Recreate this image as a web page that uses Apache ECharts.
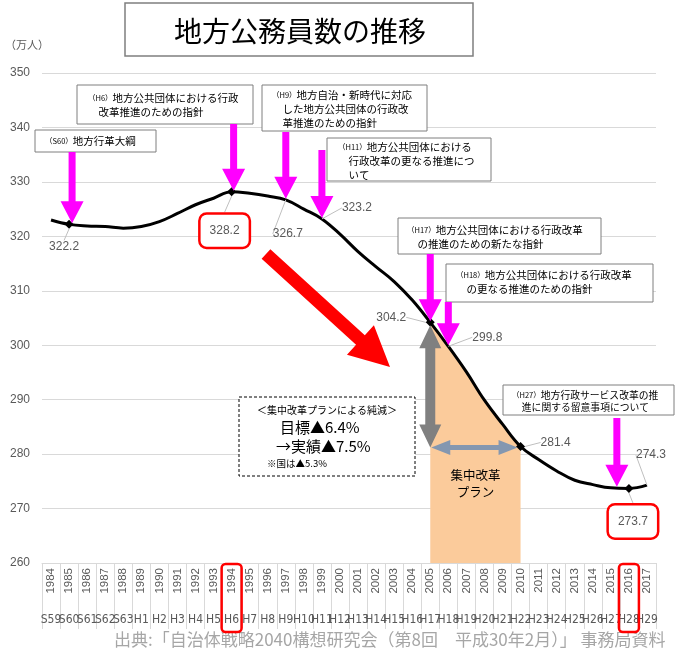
<!DOCTYPE html>
<html><head><meta charset="utf-8">
<script src="https://cdn.jsdelivr.net/npm/echarts@6/dist/echarts.min.js"></script>
<style>html,body{margin:0;padding:0;background:#fff}#c{width:691px;height:652px}</style>
</head><body><div id="c"></div>
<script>
// ---------- DATA ----------
const years = ['1984','1985','1986','1987','1988','1989','1990','1991','1992','1993','1994','1995','1996','1997','1998','1999','2000','2001','2002','2003','2004','2005','2006','2007','2008','2009','2010','2011','2012','2013','2014','2015','2016','2017'];
const eras = ['S59','S60','S61','S62','S63','H1','H2','H3','H4','H5','H6','H7','H8','H9','H10','H11','H12','H13','H14','H15','H16','H17','H18','H19','H20','H21','H22','H23','H24','H25','H26','H27','H28','H29'];
const employees = [323.0,322.2,321.9,321.8,321.5,321.8,322.7,324.2,325.8,327.0,328.2,327.9,327.4,326.7,325.0,323.2,320.4,317.2,314.4,311.7,308.3,304.2,299.8,295.1,289.9,285.5,281.4,279.0,276.9,275.2,274.4,273.8,273.7,274.3];
const yMin = 260, yMax = 350, yStep = 10;
const markerYears = ['1985','1994','2005','2010','2016'];
const labeledYears = ['1985','1994','1997','1999','2005','2006','2010','2016','2017'];
const highlightYears = ['1994','2016'];
const planStart = '2005', planEnd = '2010';
const arrowYears = ['1985','1994','1997','1999','2005','2006','2015'];
const notes = [
  '{s|（S60）}地方行革大綱',
  '{s|（H6）}地方公共団体における行政\n　改革推進のための指針',
  '{s|（H9）}地方自治・新時代に対応\n　した地方公共団体の行政改\n　革推進のための指針',
  '{s|（H11）}地方公共団体における\n　行政改革の更なる推進につ\n　いて',
  '{s|（H17）}地方公共団体における行政改革\n　の推進のための新たな指針',
  '{s|（H18）}地方公共団体における行政改革\n　の更なる推進のための指針',
  '{s|（H27）}地方行政サービス改革の推\n　進に関する留意事項について'
];
const title = '地方公務員数の推移';
const unitText = '（万人）';
const planTitle = '＜集中改革プランによる純減＞';
const planTarget = '目標▲6.4%';
const planResult = '→実績▲7.5%';
const planNational = '※国は▲5.3%';
const planName = '集中改革\nプラン';
const sourceText = '出典:「自治体戦略2040構想研究会（第8回　平成30年2月）」 事務局資料';

// ---------- LAYOUT ----------
const CJK = "'Noto Sans CJK JP', sans-serif";
const NUM = "'Liberation Sans', 'Noto Sans', sans-serif";
const labelOffsets = {'1985':[-5,22],'1994':[-7,39],'1997':[2,34],'1999':[35,-11],'2005':[-39,-5],'2006':[39,-9],'2010':[35,-4],'2016':[4,33],'2017':[4,-30]};
// [x, y, w, h, textX, textY, fontSize, lineHeight]
const noteBoxes = [
  [35,130,121,22, 45,134,10.5,14],
  [77,85,176,39, 88,91,10.5,14],
  [262,85,165,46, 272,88,10.5,14],
  [327,138,164,43, 338,140,10.5,14],
  [398,218,203,36, 407,223,10.5,14],
  [446,264,207,38, 456,268,10.5,14],
  [503,385,171,30, 512,389,9.8,12]
];
const arrowTops = [152,124,132,150,254,302,418];
const arrowDx = [3,2,0,0,0,0,6];

const chart = echarts.init(document.getElementById('c'));
const idxOf = y => years.indexOf(y);

const mainData = employees.map((v, i) => {
  const y = years[i];
  const item = {value: v};
  if (labeledYears.includes(y)) {
    const hi = highlightYears.includes(y);
    item.label = {show: true, position: 'inside', color: '#595959', fontSize: 12, fontFamily: NUM,
      formatter: v.toFixed(1)};
    if (hi) Object.assign(item.label, {borderColor: '#ff0000', borderWidth: 2.5, borderRadius: 6, padding: [10, 9], backgroundColor: '#fff'});
  }
  return item;
});
const s = idxOf(planStart), e = idxOf(planEnd);
const planData = employees.map((v, i) => (i >= s && i <= e) ? v : null);

const option = {
  animation: false,
  textStyle: {fontFamily: CJK},
  grid: {left: 42, right: 35, top: 73, bottom: 89, containLabel: false},
  xAxis: [{
    type: 'category', data: years, boundaryGap: true,
    axisLine: {lineStyle: {color: '#d9d9d9'}},
    axisTick: {show: true, length: 66, interval: 0, lineStyle: {color: '#d9d9d9'}},
    axisLabel: {interval: 0, rotate: 90, fontSize: 11.5, color: '#595959', margin: 5, fontFamily: NUM}
  }, {
    type: 'category', data: eras, position: 'bottom', boundaryGap: true,
    axisLine: {show: false}, axisTick: {show: false},
    axisLabel: {interval: 0, fontSize: 12, color: '#595959', margin: 51,
      fontFamily: "'Liberation Sans Narrow', 'DejaVu Sans Condensed', sans-serif"}
  }],
  yAxis: {
    type: 'value', min: yMin, max: yMax, interval: yStep,
    axisLine: {show: false}, axisTick: {show: false},
    axisLabel: {color: '#595959', fontSize: 12, margin: 12, fontFamily: NUM},
    splitLine: {lineStyle: {color: '#d9d9d9', width: 1}}
  },
  series: [{
    type: 'line', data: planData, smooth: 0.4, symbol: 'none', z: 1,
    lineStyle: {width: 0}, areaStyle: {color: '#fbcb9b', opacity: 1}, silent: true
  }, {
    type: 'line', data: mainData, smooth: 0.4, z: 3,
    symbol: 'diamond', showAllSymbol: true,
    symbolSize: (v, p) => markerYears.includes(years[p.dataIndex]) ? 9 : 0,
    itemStyle: {color: '#000'},
    lineStyle: {color: '#000', width: 3},
    labelLayout: p => { const o = labelOffsets[years[p.dataIndex]]; return o ? {dx: o[0], dy: o[1]} : {}; },
    labelLine: {show: true, lineStyle: {color: '#bfbfbf', width: 1}},
    emphasis: {disabled: true}, silent: true
  }]
};
chart.setOption(option);

// ---------- ANNOTATIONS ----------
const px = (i) => chart.convertToPixel({seriesIndex: 1}, [i, employees[i]]);
function arrowPts(S, E, sw, hw, hl, dbl) {
  const dx = E[0]-S[0], dy = E[1]-S[1], L = Math.hypot(dx, dy);
  const u = [dx/L, dy/L], n = [-u[1], u[0]];
  const P = (b, k) => [b[0]+n[0]*k, b[1]+n[1]*k];
  const B = [E[0]-u[0]*hl, E[1]-u[1]*hl];
  if (!dbl) return [P(S,sw), P(B,sw), P(B,hw), E, P(B,-hw), P(B,-sw), P(S,-sw)];
  const A = [S[0]+u[0]*hl, S[1]+u[1]*hl];
  return [S, P(A,hw), P(A,sw), P(B,sw), P(B,hw), E, P(B,-hw), P(B,-sw), P(A,-sw), P(A,-hw)];
}
const poly = (pts, color, z) => ({type: 'polygon', z: z || 50, silent: true, shape: {points: pts}, style: {fill: color}});
const g = [];

// title
g.push({type: 'rect', z: 50, shape: {x: 125, y: 3, width: 348, height: 53}, style: {fill: '#fff', stroke: '#7f7f7f', lineWidth: 1.5}});
g.push({type: 'text', z: 51, style: {x: 300, y: 31, text: title, fontSize: 28, fill: '#000', align: 'center', verticalAlign: 'middle', fontFamily: CJK}});
g.push({type: 'text', z: 51, style: {x: 5, y: 45, text: unitText, fontSize: 11, fill: '#595959', verticalAlign: 'middle', fontFamily: CJK}});

// note boxes
notes.forEach((t, k) => {
  const b = noteBoxes[k];
  g.push({type: 'rect', z: 50, shape: {x: b[0], y: b[1], width: b[2], height: b[3]}, style: {fill: '#fff', stroke: '#7f7f7f', lineWidth: 1}});
  g.push({type: 'text', z: 51, style: {x: b[4], y: b[5], text: t, fontSize: b[6], lineHeight: b[7], fill: '#000', fontFamily: CJK,
    verticalAlign: 'top', rich: {s: {fontSize: 7.5, fill: '#000', lineHeight: b[7], fontFamily: CJK}}}});
});

// magenta arrows
arrowYears.forEach((y, k) => {
  const p = px(idxOf(y));
  const tip = [p[0] + arrowDx[k], p[1] - 1];
  g.push(poly(arrowPts([tip[0], arrowTops[k]], tip, 3.5, 11.5, 22, false), '#ff00ff', 60));
});

// red trend arrow
g.push(poly(arrowPts([266, 254], [390, 367], 6.5, 20, 40, false), '#ff0000', 40));

// plan arrows
const ps = px(s), pe = px(e);
g.push(poly(arrowPts([ps[0], ps[1] + 3], [ps[0], pe[1] + 1], 5, 11, 23, true), '#808080', 40));
g.push(poly(arrowPts([ps[0] + 1, pe[1] + 1], [pe[0] - 3, pe[1] + 1], 2.5, 7.5, 19, true), '#8497b0', 40));
g.push({type: 'text', z: 41, style: {x: (ps[0] + pe[0]) / 2, y: 467, text: planName, fontSize: 12.5, lineHeight: 17, fill: '#000', align: 'center', verticalAlign: 'top', fontFamily: CJK}});

// dashed plan box
g.push({type: 'rect', z: 50, shape: {x: 239, y: 397, width: 176, height: 79}, style: {fill: '#fff', stroke: '#000', lineWidth: 1, lineDash: [3, 2]}});
g.push({type: 'text', z: 51, style: {x: 327, y: 410, text: planTitle, fontSize: 10, fill: '#000', align: 'center', verticalAlign: 'middle', fontFamily: CJK}});
g.push({type: 'text', z: 51, style: {x: 280, y: 427, text: planTarget, fontSize: 15, fill: '#000', verticalAlign: 'middle', fontFamily: CJK}});
g.push({type: 'text', z: 51, style: {x: 276, y: 446, text: planResult, fontSize: 15, fill: '#000', verticalAlign: 'middle', fontFamily: CJK}});
g.push({type: 'text', z: 51, style: {x: 267, y: 463, text: planNational, fontSize: 9.5, fill: '#000', verticalAlign: 'middle', fontFamily: CJK}});

// red boxes on the category axis
const axisY = chart.convertToPixel({yAxisIndex: 0}, yMin);
highlightYears.forEach(y => {
  const x = px(idxOf(y))[0];
  g.push({type: 'rect', z: 60, shape: {x: x - 10, y: axisY + 1, width: 20, height: 68, r: 4}, style: {fill: 'none', stroke: '#ff0000', lineWidth: 2.5}});
});

// source
g.push({type: 'text', z: 51, style: {x: 114, y: 640, text: sourceText, fontSize: 17, fill: '#a6a6a6', verticalAlign: 'middle', fontFamily: CJK}});

chart.setOption({graphic: {elements: g}});
</script>
</body></html>
